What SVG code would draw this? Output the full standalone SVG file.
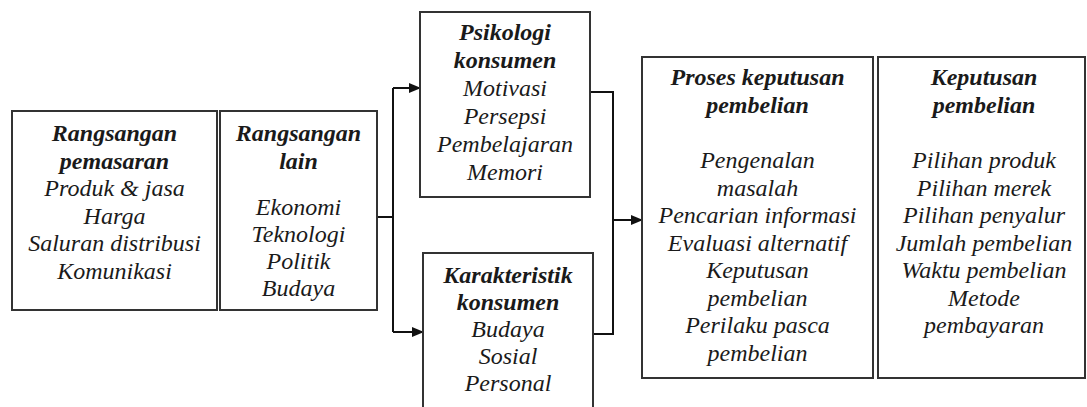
<svg xmlns="http://www.w3.org/2000/svg" width="1087" height="407" viewBox="0 0 1087 407">
<defs>
<marker id="arr" markerWidth="12" markerHeight="10" refX="11" refY="5" orient="auto" markerUnits="userSpaceOnUse">
<path d="M0,0 L12,5 L0,10 Z" fill="#111"/>
</marker>
<style>
.box{fill:#fff;stroke:#333;stroke-width:2}
.t{font-family:"Liberation Serif","Times New Roman",serif;font-size:24px;font-style:italic;fill:#1a1a1a;text-anchor:middle}
.b{font-weight:bold}
.c{fill:none;stroke:#111;stroke-width:2}
</style>
</defs>
<rect width="1087" height="407" fill="#fff"/>
<g id="connectors">
<path class="c" d="M377,217 H393"/>
<path class="c" d="M393,88 V332"/>
<path class="c" d="M393,88 H420" marker-end="url(#arr)"/>
<path class="c" d="M393,332 H423" marker-end="url(#arr)"/>
<path class="c" d="M590,92 H613 V334 H593"/>
<path class="c" d="M613,220 H642" marker-end="url(#arr)"/>
</g>
<g id="rangsangan-pemasaran">
<rect class="box" x="12" y="111" width="205" height="199"/>
<text class="t b" x="114.5" y="141">Rangsangan</text>
<text class="t b" x="114.5" y="168.5">pemasaran</text>
<text class="t" x="114.5" y="196">Produk &amp; jasa</text>
<text class="t" x="114.5" y="223.5">Harga</text>
<text class="t" x="114.5" y="251">Saluran distribusi</text>
<text class="t" x="114.5" y="278.5">Komunikasi</text>
</g>
<g id="rangsangan-lain">
<rect class="box" x="220" y="111" width="157" height="199"/>
<text class="t b" x="298.5" y="141">Rangsangan</text>
<text class="t b" x="298.5" y="168.5">lain</text>
<text class="t" x="298.5" y="215">Ekonomi</text>
<text class="t" x="298.5" y="242">Teknologi</text>
<text class="t" x="298.5" y="269">Politik</text>
<text class="t" x="298.5" y="296">Budaya</text>
</g>
<g id="psikologi-konsumen">
<rect class="box" x="420" y="12" width="170" height="185"/>
<text class="t b" x="505" y="40">Psikologi</text>
<text class="t b" x="505" y="68">konsumen</text>
<text class="t" x="505" y="96">Motivasi</text>
<text class="t" x="505" y="124">Persepsi</text>
<text class="t" x="505" y="152">Pembelajaran</text>
<text class="t" x="505" y="180">Memori</text>
</g>
<g id="karakteristik-konsumen">
<rect class="box" x="423" y="253" width="170" height="170"/>
<text class="t b" x="508" y="283">Karakteristik</text>
<text class="t b" x="508" y="310">konsumen</text>
<text class="t" x="508" y="337">Budaya</text>
<text class="t" x="508" y="364">Sosial</text>
<text class="t" x="508" y="391">Personal</text>
</g>
<g id="proses-keputusan">
<rect class="box" x="642" y="57" width="231" height="321"/>
<text class="t b" x="757.5" y="85">Proses keputusan</text>
<text class="t b" x="757.5" y="113">pembelian</text>
<text class="t" x="757.5" y="168">Pengenalan</text>
<text class="t" x="757.5" y="195.5">masalah</text>
<text class="t" x="757.5" y="223">Pencarian informasi</text>
<text class="t" x="757.5" y="250.5">Evaluasi alternatif</text>
<text class="t" x="757.5" y="278">Keputusan</text>
<text class="t" x="757.5" y="305.5">pembelian</text>
<text class="t" x="757.5" y="333">Perilaku pasca</text>
<text class="t" x="757.5" y="360.5">pembelian</text>
</g>
<g id="keputusan-pembelian">
<rect class="box" x="878" y="57" width="207" height="321"/>
<text class="t b" x="984" y="85">Keputusan</text>
<text class="t b" x="984" y="113">pembelian</text>
<text class="t" x="984" y="168">Pilihan produk</text>
<text class="t" x="984" y="195.5">Pilihan merek</text>
<text class="t" x="984" y="223">Pilihan penyalur</text>
<text class="t" x="984" y="250.5">Jumlah pembelian</text>
<text class="t" x="984" y="278">Waktu pembelian</text>
<text class="t" x="984" y="305.5">Metode</text>
<text class="t" x="984" y="333">pembayaran</text>
</g>
</svg>
